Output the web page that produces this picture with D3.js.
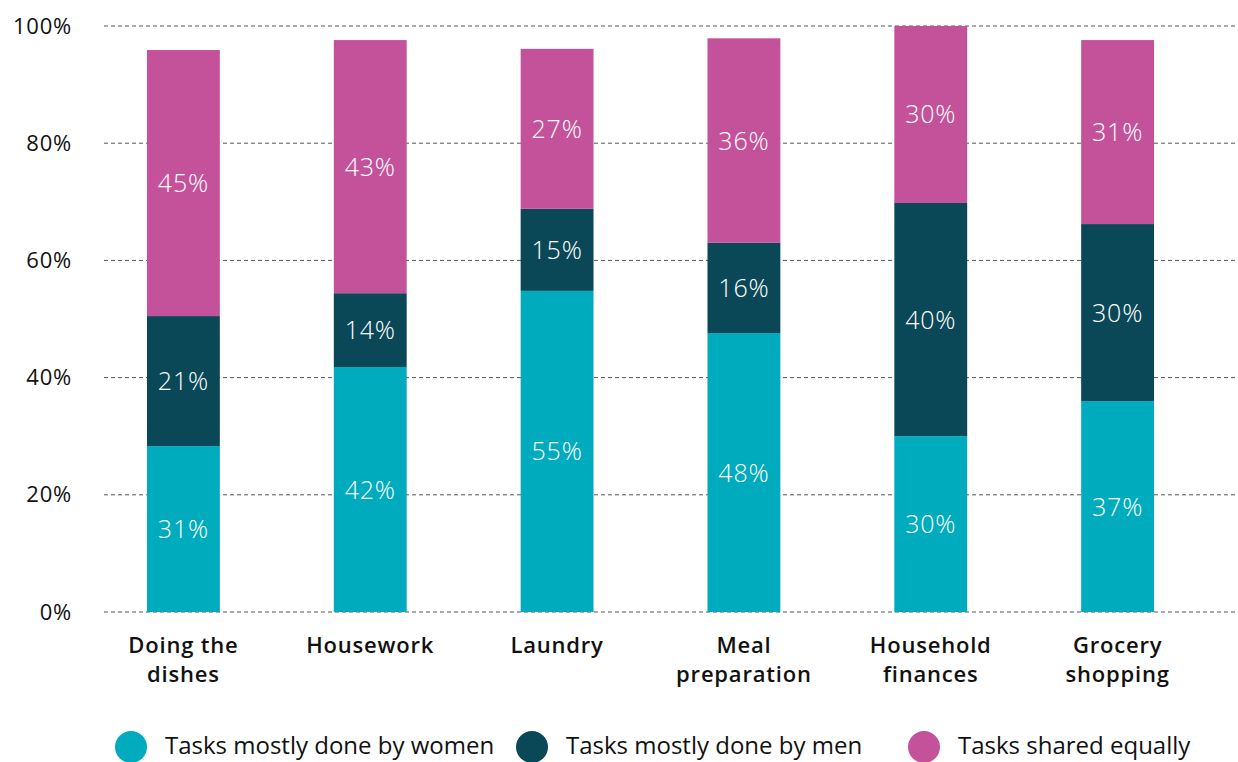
<!DOCTYPE html>
<html>
<head>
<meta charset="utf-8">
<script src="https://cdn.jsdelivr.net/npm/d3@7"></script>
<style>
  body { margin: 0; background: #fff; }
  svg { font-family: "Open Sans", sans-serif; }
</style>
</head>
<body>
<script>
// categories (two-line labels)
const categories = ["Doing the dishes", "Housework", "Laundry", "Meal preparation", "Household finances", "Grocery shopping"];
const categoryLines = [["Doing the", "dishes"], ["Housework"], ["Laundry"], ["Meal", "preparation"], ["Household", "finances"], ["Grocery", "shopping"]];

// bar heights as drawn
const women = [28.3, 41.8, 54.8, 47.6, 30.0, 36.0];
const men = [22.2, 12.6, 14.0, 15.4, 39.8, 30.2];
const shared = [45.4, 43.2, 27.3, 34.9, 30.2, 31.4];

// printed labels
const womenLabels = ["31%", "42%", "55%", "48%", "30%", "37%"];
const menLabels = ["21%", "14%", "15%", "16%", "40%", "30%"];
const sharedLabels = ["45%", "43%", "27%", "36%", "30%", "31%"];

const yTicks = [0, 20, 40, 60, 80, 100];
const seriesNames = ["Tasks mostly done by women", "Tasks mostly done by men", "Tasks shared equally"];
const colors = ["#00abbd", "#0a4858", "#c4529a"];

const w = 1238, h = 762;
const x0 = 104, x1 = 1238, yTop = 26, yBot = 612;

const svg = d3.select("body").append("svg")
    .attr("width", w)
    .attr("height", h);

const xScale = d3.scaleBand()
    .domain(categories)
    .range([x0, 1197])
    .paddingInner(0.61)
    .paddingOuter(0.23);

const yScale = d3.scaleLinear()
    .domain([0, 100])
    .range([yBot, yTop]);

// grid
svg.append("g")
    .selectAll("line")
    .data(yTicks)
    .enter()
    .append("line")
    .attr("x1", x0)
    .attr("x2", x1)
    .attr("y1", d => yScale(d))
    .attr("y2", d => yScale(d))
    .attr("stroke", "#555")
    .attr("stroke-width", 1)
    .attr("stroke-dasharray", "4,3");

// y axis labels
const yAxis = svg.append("g")
    .attr("transform", "translate(72,0)")
    .call(d3.axisLeft(yScale).tickValues(yTicks).tickFormat(d => d + "%").tickSize(0).tickPadding(0));
yAxis.select(".domain").remove();
yAxis.selectAll("text")
    .attr("font-size", 22)
    .attr("letter-spacing", 0.8)
    .attr("fill", "#111")
    .attr("font-family", "Open Sans, sans-serif");

// stacked data
const rows = categories.map((c, i) => ({ cat: c, women: women[i], men: men[i], shared: shared[i] }));
const keys = ["women", "men", "shared"];
const labelSets = { women: womenLabels, men: menLabels, shared: sharedLabels };
const stack = d3.stack().keys(keys)(rows);

stack.forEach((layer, k) => {
    const g = svg.append("g");
    g.selectAll("rect")
        .data(layer)
        .enter()
        .append("rect")
        .attr("x", d => xScale(d.data.cat))
        .attr("width", xScale.bandwidth())
        .attr("y", d => yScale(d[1]))
        .attr("height", d => yScale(d[0]) - yScale(d[1]))
        .attr("fill", colors[k]);
    g.selectAll("text")
        .data(layer)
        .enter()
        .append("text")
        .attr("x", d => xScale(d.data.cat) + xScale.bandwidth() / 2)
        .attr("y", d => (yScale(d[0]) + yScale(d[1])) / 2)
        .attr("dy", "0.36em")
        .attr("text-anchor", "middle")
        .attr("fill", "#fff")
        .attr("font-size", 25)
        .attr("letter-spacing", 0.8)
        .attr("font-weight", 300)
        .text((d, i) => labelSets[layer.key][i]);
});

// x labels
const xl = svg.append("g");
categories.forEach((c, i) => {
    const t = xl.append("text")
        .attr("x", xScale(c) + xScale.bandwidth() / 2)
        .attr("y", 653)
        .attr("text-anchor", "middle")
        .attr("font-size", 22)
        .attr("font-weight", 600)
        .attr("letter-spacing", 0.8)
        .attr("fill", "#111");
    categoryLines[i].forEach((line, j) => {
        t.append("tspan")
            .attr("x", xScale(c) + xScale.bandwidth() / 2)
            .attr("dy", j === 0 ? 0 : 29)
            .text(line);
    });
});

// legend
const legendX = [131, 532, 924];
const legend = svg.append("g");
seriesNames.forEach((s, i) => {
    legend.append("circle")
        .attr("cx", legendX[i])
        .attr("cy", 747)
        .attr("r", 16)
        .attr("fill", colors[i]);
    legend.append("text")
        .attr("x", legendX[i] + 34)
        .attr("y", 754)
        .attr("font-size", 24)
        .attr("fill", "#111")
        .text(s);
});
</script>
</body>
</html>
